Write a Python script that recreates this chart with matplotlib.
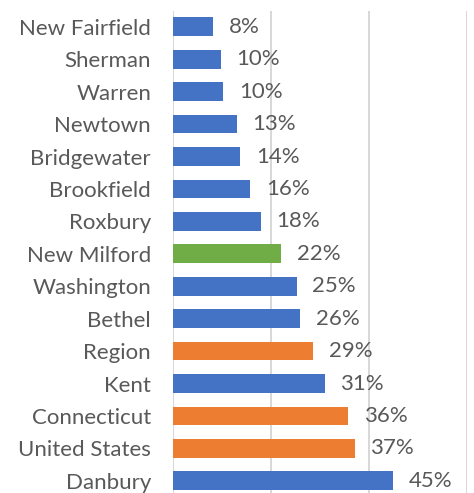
import matplotlib
matplotlib.use("Agg")
import matplotlib.pyplot as plt

# data, top to bottom as drawn
places = ["New Fairfield", "Sherman", "Warren", "Newtown", "Bridgewater",
          "Brookfield", "Roxbury", "New Milford", "Washington", "Bethel",
          "Region", "Kent", "Connecticut", "United States", "Danbury"]
values = [8.2, 9.7, 10.2, 12.9, 13.7, 15.7, 17.8, 22.0, 25.2, 25.9,
          28.6, 30.9, 35.7, 37.0, 44.8]
kinds = ["town"] * 7 + ["focus"] + ["town"] * 2 + ["bench", "town", "bench", "bench", "town"]

colors = {"town": "#4472C4", "bench": "#ED7D31", "focus": "#70AD47"}
text_col = "#595959"
plt.rcParams['font.family'] = ['Lato', 'DejaVu Sans']

fig = plt.figure(figsize=(4.74, 4.93), dpi=100)
ax = fig.add_axes([173.3 / 474, (493 - 497) / 493, 294 / 474, 486.4 / 493])

ypos = list(range(len(places)))
ax.barh(ypos, values, height=0.576, color=[colors[k] for k in kinds], zorder=2)

for y, v in zip(ypos, values):
    ax.text(v + 3.2, y, f"{v:.0f}%", va="center", ha="left",
            fontsize=16, color=text_col)

ax.set_xlim(0, 60)
ax.set_ylim(len(places) - 0.5, -0.5)
ax.set_xticks([0, 20, 40, 60])
ax.xaxis.grid(True, color="#d4d4d4", linewidth=1.3, zorder=0)
ax.set_xticklabels([])
ax.tick_params(axis="x", length=0)
ax.set_yticks(ypos)
ax.set_yticklabels(places, fontsize=16, color=text_col)
ax.tick_params(axis="y", length=0, pad=16)
for s in ax.spines.values():
    s.set_visible(False)

fig.savefig("out.png", dpi=100)
